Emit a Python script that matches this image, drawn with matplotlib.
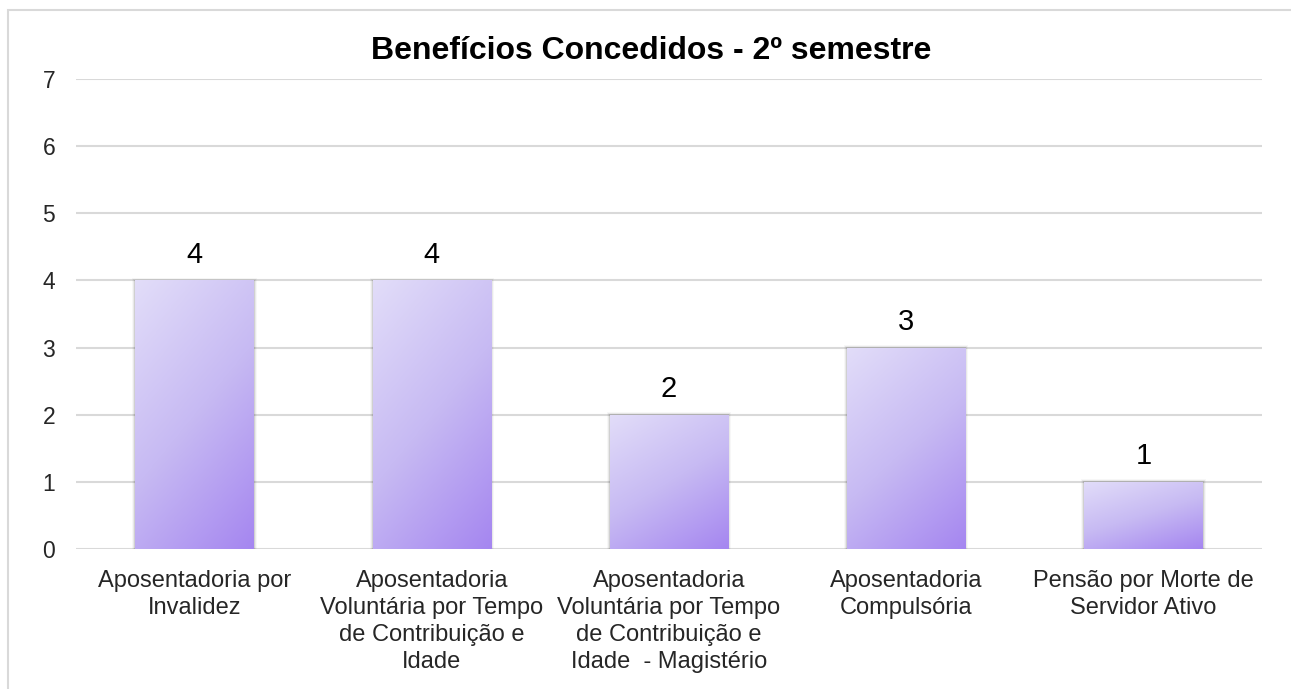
import numpy as np
import matplotlib.pyplot as plt
from matplotlib.colors import LinearSegmentedColormap
from matplotlib.patches import Rectangle

plt.rcParams['font.family'] = ['Liberation Sans', 'DejaVu Sans']

categories = [
    "Aposentadoria por\nInvalidez",
    "Aposentadoria\nVoluntária por Tempo\nde Contribuição e\nIdade",
    "Aposentadoria\nVoluntária por Tempo\nde Contribuição e\nIdade  - Magistério",
    "Aposentadoria\nCompulsória",
    "Pensão por Morte de\nServidor Ativo",
]
values = [4, 4, 2, 3, 1]
yticks = [0, 1, 2, 3, 4, 5, 6, 7]
title = "Benefícios Concedidos - 2º semestre"

W, H = 1291, 689
fig = plt.figure(figsize=(W / 100, H / 100), dpi=100)
ax = fig.add_axes([76 / W, 1 - 549 / H, (1262 - 76) / W, (549 - 79) / H])

# outer chart border (top and left visible)
fig.patches.append(Rectangle((8 / W, -0.1), 1.2, (H - 10) / H + 0.1,
                             transform=fig.transFigure, fill=False,
                             edgecolor='#d9d9d9', linewidth=1.5))

x = np.arange(len(values))
width = 0.5
ax.set_xlim(-0.5, len(values) - 0.5)
ax.set_ylim(0, 7)

for y in yticks:
    ax.axhline(y, color='#d9d9d9', linewidth=1.5, zorder=0)

cmap = LinearSegmentedColormap.from_list('grad', ['#e2ddf9', '#c7baf3', '#a586f0'])
# diagonal gradient: light top-left to dark bottom-right
gy, gx = np.mgrid[0:1:200j, 0:1:100j]
grad = 0.65 * gy + 0.35 * gx

bars = ax.bar(x, values, width, color='none', edgecolor='none', zorder=2)
for b in bars:
    x0, w, h = b.get_x(), b.get_width(), b.get_height()
    # soft shadow
    for k, a in enumerate([0.10, 0.06, 0.03]):
        d = 0.004 * (k + 1)
        ax.add_patch(Rectangle((x0 - d, 0), w + 2 * d, h + d * 3,
                               facecolor='black', alpha=a, edgecolor='none', zorder=1.5))
    im = ax.imshow(grad, cmap=cmap, extent=[x0, x0 + w, 0, h], origin='upper',
                   aspect='auto', zorder=3, interpolation='bilinear')
    im.set_clip_path(b)
    ax.text(x0 + w / 2, h + 0.17, str(int(h)), ha='center', va='bottom',
            fontsize=21, color='#000000')

ax.set_xticks(x)
ax.set_xticklabels(categories, fontsize=17, color='#262626', linespacing=1.3, va='top')
ax.set_yticks(yticks)
ax.set_yticklabels([str(t) for t in yticks], fontsize=16.5, color='#262626')
ax.tick_params(axis='both', length=0)
ax.tick_params(axis='x', pad=15)
ax.tick_params(axis='y', pad=15)
for s in ax.spines.values():
    s.set_visible(False)
ax.set_ylim(0, 7)
ax.set_xlim(-0.5, len(values) - 0.5)

fig.text(651 / W, 1 - 51 / H, title, ha='center', va='center', fontsize=23,
         fontweight='bold', color='#000000')

fig.savefig('out.png', dpi=100)
